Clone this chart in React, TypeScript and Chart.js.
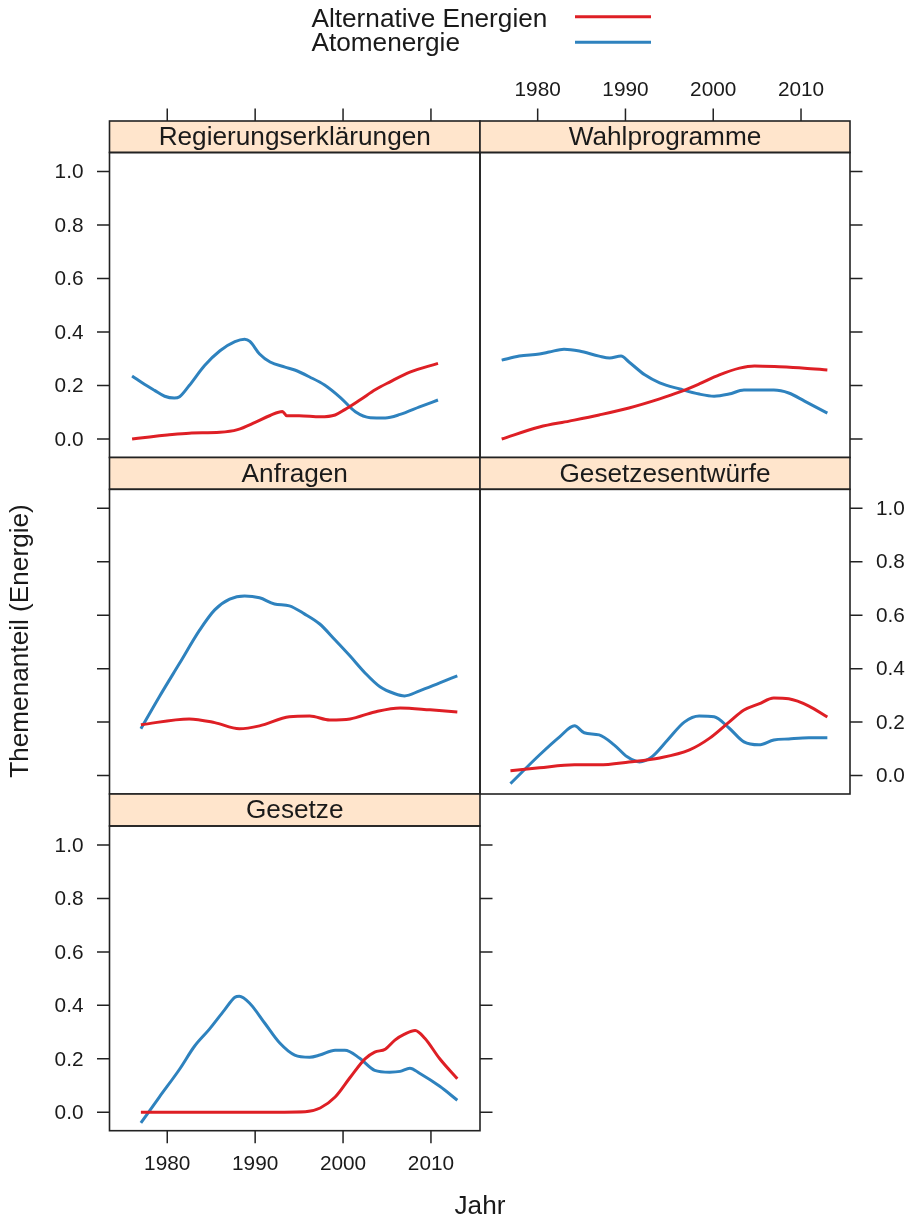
import React, { useEffect, useRef } from "react";
import { Chart, registerables } from "chart.js";
Chart.register(...registerables);

// ---------- data ----------
const seriesNames = ["Alternative Energien", "Atomenergie"];
const xTicks = [1980, 1990, 2000, 2010];
const xTickLabels = ["1980", "1990", "2000", "2010"];
const yTicks = [0, 0.2, 0.4, 0.6, 0.8, 1.0];
const yTickLabels = ["0.0", "0.2", "0.4", "0.6", "0.8", "1.0"];
const panelTitles = ["Regierungserklärungen", "Wahlprogramme", "Anfragen", "Gesetzesentwürfe", "Gesetze"];
const xAxisTitle = "Jahr";
const yAxisTitle = "Themenanteil (Energie)";

// Regierungserklärungen
const regAltYear = [1976, 1978, 1980, 1982.5, 1986, 1988, 1990, 1991.7, 1993.1, 1993.6, 1995, 1997.4, 1999.1, 2000.2, 2002, 2003.7, 2005.3, 2007.6, 2010.8];
const regAltVal = [0.0, 0.008, 0.015, 0.022, 0.025, 0.035, 0.062, 0.088, 0.103, 0.087, 0.087, 0.083, 0.09, 0.11, 0.148, 0.185, 0.213, 0.25, 0.283];
const regAtomYear = [1976, 1977.4, 1978.55, 1979.7, 1980.8, 1981.4, 1982.5, 1984.25, 1986, 1987.7, 1988.8, 1989.4, 1990.5, 1991.7, 1993.4, 1994.5, 1996.2, 1997.9, 1999.7, 2001.4, 2003.1, 2004.8, 2006.5, 2008.7, 2010.8];
const regAtomVal = [0.236, 0.205, 0.182, 0.16, 0.153, 0.158, 0.2, 0.275, 0.33, 0.364, 0.373, 0.365, 0.318, 0.288, 0.269, 0.258, 0.232, 0.202, 0.155, 0.102, 0.08, 0.079, 0.092, 0.12, 0.146];

// Wahlprogramme
const wahlAltYear = [1975.9, 1980.2, 1983.6, 1987, 1990.4, 1993.9, 1996.2, 1998.4, 2000.7, 2003, 2004.7, 2007.5, 2010.4, 2013];
const wahlAltVal = [0.0, 0.045, 0.067, 0.09, 0.116, 0.15, 0.176, 0.206, 0.24, 0.265, 0.273, 0.27, 0.265, 0.258];
const wahlAtomYear = [1975.9, 1977.9, 1980.2, 1981.3, 1983, 1984.75, 1987, 1988.2, 1989.5, 1990.4, 1992.2, 1993.9, 1996.2, 1998.4, 2000.1, 2001.8, 2003.5, 2005.2, 2006.9, 2008.6, 2010.4, 2013];
const wahlAtomVal = [0.295, 0.31, 0.318, 0.325, 0.336, 0.329, 0.31, 0.303, 0.31, 0.288, 0.24, 0.21, 0.187, 0.168, 0.16, 0.168, 0.183, 0.183, 0.183, 0.172, 0.142, 0.097];

// Anfragen
const anfAltYear = [1977, 1982.5, 1985.4, 1988.2, 1990.5, 1993.9, 1996.2, 1998.5, 2000.8, 2003.6, 2006.5, 2009.9, 2013];
const anfAltVal = [0.19, 0.212, 0.198, 0.175, 0.186, 0.22, 0.223, 0.208, 0.212, 0.238, 0.253, 0.246, 0.238];
const anfAtomYear = [1977, 1979.1, 1981.4, 1983.7, 1985.4, 1987.1, 1988.8, 1990.5, 1992.2, 1993.9, 1995.6, 1997.35, 1999.1, 2000.8, 2002.5, 2004.2, 2005.9, 2007, 2008.7, 2011, 2013];
const anfAtomVal = [0.175, 0.295, 0.42, 0.545, 0.62, 0.66, 0.672, 0.665, 0.642, 0.635, 0.605, 0.567, 0.507, 0.447, 0.384, 0.332, 0.306, 0.298, 0.317, 0.347, 0.373];

// Gesetzesentwürfe
const entAltYear = [1976.9, 1980.2, 1984.2, 1987, 1990.4, 1993.9, 1997.3, 1999.6, 2001.8, 2003.5, 2005.2, 2006.9, 2008.6, 2010.9, 2013];
const entAltVal = [0.018, 0.029, 0.04, 0.04, 0.051, 0.066, 0.096, 0.14, 0.2, 0.245, 0.268, 0.29, 0.287, 0.26, 0.219];
const entAtomYear = [1976.9, 1980.2, 1982.5, 1984.2, 1985.3, 1987, 1988.7, 1990.2, 1991.6, 1993, 1994.8, 1996.7, 1998.4, 2000.1, 2001.8, 2003.5, 2005.2, 2006.9, 2008.6, 2010.9, 2013];
const entAtomVal = [-0.03, 0.077, 0.145, 0.186, 0.16, 0.152, 0.115, 0.07, 0.051, 0.07, 0.133, 0.2, 0.223, 0.22, 0.178, 0.126, 0.115, 0.133, 0.137, 0.141, 0.141];

// Gesetze
const gesAltYear = [1977, 1985, 1990, 1995.7, 1997.4, 1999.1, 2000.8, 2002.5, 2003.6, 2004.8, 2005.9, 2007, 2008.2, 2009.3, 2011, 2013];
const gesAltVal = [0, 0, 0, 0.002, 0.016, 0.057, 0.13, 0.2, 0.225, 0.236, 0.27, 0.292, 0.306, 0.277, 0.2, 0.125];
const gesAtomYear = [1977, 1979.1, 1981.4, 1983.1, 1984.8, 1986.5, 1987.7, 1988.2, 1989.4, 1991.1, 1992.8, 1994.5, 1996.2, 1997.35, 1999.1, 2000.2, 2001.9, 2003.6, 2005.3, 2006.5, 2007.6, 2008.7, 2011, 2013];
const gesAtomVal = [-0.04, 0.057, 0.161, 0.247, 0.311, 0.382, 0.43, 0.434, 0.407, 0.333, 0.259, 0.214, 0.206, 0.214, 0.232, 0.232, 0.202, 0.157, 0.15, 0.153, 0.165, 0.146, 0.097, 0.045];

// ---------- layout / style ----------
const W = 914;
const H = 1222;
const X_MIN = 1973.43;
const X_MAX = 2015.58;
const Y_MIN = -0.069;
const Y_MAX = 1.071;
const COLORS = ["#DE1F25", "#2E82BE"];
const FONT = '"Liberation Sans", Arial, Helvetica, sans-serif';
const BIG = 26.2;
const SMALL = 20.8;
const INK = "#1a1a1a";
const FRAME = "#222222";
const STRIP_BG = "#FFE5CC";
const TICK = 12.5;
const COLS = [[109.5, 480], [480, 850]];
const ROWS = [
  { strip: 121, top: 152.5, bottom: 457.5 },
  { strip: 457.5, top: 489.3, bottom: 794 },
  { strip: 794, top: 826, bottom: 1130.7 },
];

type Side = "labels" | "ticks" | null;
type PanelCfg = {
  title: string;
  col: number;
  row: number;
  alt: [number[], number[]];
  atom: [number[], number[]];
  left: Side;
  right: Side;
  top: Side;
  bottom: Side;
  overlay?: boolean;
};

const PANELS: PanelCfg[] = [
  { title: panelTitles[0], col: 0, row: 0, alt: [regAltYear, regAltVal], atom: [regAtomYear, regAtomVal], left: "labels", right: null, top: "ticks", bottom: null, overlay: true },
  { title: panelTitles[1], col: 1, row: 0, alt: [wahlAltYear, wahlAltVal], atom: [wahlAtomYear, wahlAtomVal], left: null, right: "ticks", top: "labels", bottom: null },
  { title: panelTitles[2], col: 0, row: 1, alt: [anfAltYear, anfAltVal], atom: [anfAtomYear, anfAtomVal], left: "ticks", right: null, top: null, bottom: null },
  { title: panelTitles[3], col: 1, row: 1, alt: [entAltYear, entAltVal], atom: [entAtomYear, entAtomVal], left: null, right: "labels", top: null, bottom: null },
  { title: panelTitles[4], col: 0, row: 2, alt: [gesAltYear, gesAltVal], atom: [gesAtomYear, gesAtomVal], left: "labels", right: "ticks", top: null, bottom: "labels" },
];

const zip = (xs: number[], ys: number[]) => xs.map((x, i) => ({ x, y: ys[i] }));

function makeDecor(cfg: PanelCfg) {
  const stripTop = ROWS[cfg.row].strip;
  return {
    id: "panelDecor",
    afterDatasetsDraw(chart: any) {
      const ctx: CanvasRenderingContext2D = chart.ctx;
      const { left, right, top, bottom } = chart.chartArea;
      const xs = chart.scales.x;
      const ys = chart.scales.y;
      ctx.save();
      // strip
      ctx.fillStyle = STRIP_BG;
      ctx.fillRect(left, stripTop, right - left, top - stripTop);
      ctx.strokeStyle = FRAME;
      ctx.lineWidth = 1.6;
      ctx.strokeRect(left, stripTop, right - left, top - stripTop);
      ctx.strokeRect(left, top, right - left, bottom - top);
      ctx.fillStyle = INK;
      ctx.font = `${BIG}px ${FONT}`;
      ctx.textAlign = "center";
      ctx.textBaseline = "middle";
      ctx.fillText(cfg.title, (left + right) / 2, (stripTop + top) / 2 + 1);

      // ticks
      ctx.lineWidth = 1.5;
      ctx.font = `${SMALL}px ${FONT}`;
      ctx.beginPath();
      if (cfg.left) {
        yTicks.forEach((v) => {
          const y = ys.getPixelForValue(v);
          ctx.moveTo(left - TICK, y);
          ctx.lineTo(left, y);
        });
      }
      if (cfg.right) {
        yTicks.forEach((v) => {
          const y = ys.getPixelForValue(v);
          ctx.moveTo(right, y);
          ctx.lineTo(right + TICK, y);
        });
      }
      if (cfg.top) {
        xTicks.forEach((v) => {
          const x = xs.getPixelForValue(v);
          ctx.moveTo(x, stripTop - TICK);
          ctx.lineTo(x, stripTop);
        });
      }
      if (cfg.bottom) {
        xTicks.forEach((v) => {
          const x = xs.getPixelForValue(v);
          ctx.moveTo(x, bottom);
          ctx.lineTo(x, bottom + TICK);
        });
      }
      ctx.stroke();

      ctx.textBaseline = "middle";
      if (cfg.left === "labels") {
        ctx.textAlign = "right";
        yTicks.forEach((v, i) => ctx.fillText(yTickLabels[i], left - 26, ys.getPixelForValue(v) + 1));
      }
      if (cfg.right === "labels") {
        ctx.textAlign = "left";
        yTicks.forEach((v, i) => ctx.fillText(yTickLabels[i], right + 26, ys.getPixelForValue(v) + 1));
      }
      if (cfg.top === "labels") {
        ctx.textAlign = "center";
        xTicks.forEach((v, i) => ctx.fillText(xTickLabels[i], xs.getPixelForValue(v), 90));
      }
      if (cfg.bottom === "labels") {
        ctx.textAlign = "center";
        xTicks.forEach((v, i) => ctx.fillText(xTickLabels[i], xs.getPixelForValue(v), bottom + 34));
      }

      if (cfg.overlay) {
        // legend
        ctx.font = `${BIG}px ${FONT}`;
        ctx.textAlign = "left";
        ctx.textBaseline = "alphabetic";
        const rows = [
          { ty: 27, ly: 16.7 },
          { ty: 51, ly: 42.3 },
        ];
        chart.data.datasets.forEach((ds: any, i: number) => {
          ctx.fillStyle = INK;
          ctx.fillText(ds.label, 311.5, rows[i].ty);
          ctx.strokeStyle = ds.borderColor;
          ctx.lineWidth = 3;
          ctx.beginPath();
          ctx.moveTo(575, rows[i].ly);
          ctx.lineTo(651, rows[i].ly);
          ctx.stroke();
        });
        // axis titles
        ctx.fillStyle = INK;
        ctx.textAlign = "center";
        ctx.textBaseline = "middle";
        ctx.fillText(xAxisTitle, 480, 1207);
        ctx.save();
        ctx.translate(21, 641);
        ctx.rotate(-Math.PI / 2);
        ctx.fillText(yAxisTitle, 0, 0);
        ctx.restore();
      }
      ctx.restore();
    },
  };
}

function Panel({ cfg }: { cfg: PanelCfg }) {
  const ref = useRef<HTMLCanvasElement | null>(null);
  useEffect(() => {
    if (!ref.current) return;
    const [cl, cr] = COLS[cfg.col];
    const r = ROWS[cfg.row];
    const chart = new Chart(ref.current, {
      type: "line",
      data: {
        datasets: [
          {
            label: seriesNames[0],
            data: zip(cfg.alt[0], cfg.alt[1]),
            borderColor: COLORS[0],
            borderWidth: 3,
            pointRadius: 0,
            cubicInterpolationMode: "monotone",
            fill: false,
          },
          {
            label: seriesNames[1],
            data: zip(cfg.atom[0], cfg.atom[1]),
            borderColor: COLORS[1],
            borderWidth: 3,
            pointRadius: 0,
            cubicInterpolationMode: "monotone",
            fill: false,
          },
        ],
      },
      options: {
        animation: false,
        responsive: false,
        events: [],
        layout: { padding: { left: cl, right: W - cr, top: r.top, bottom: H - r.bottom } },
        plugins: { legend: { display: false }, tooltip: { enabled: false }, title: { display: false } },
        scales: {
          x: { type: "linear", min: X_MIN, max: X_MAX, display: false },
          y: { type: "linear", min: Y_MIN, max: Y_MAX, display: false },
        },
      },
      plugins: [makeDecor(cfg)],
    } as any);
    return () => chart.destroy();
  }, [cfg]);
  return (
    <canvas
      ref={ref}
      width={W}
      height={H}
      style={{ position: "absolute", left: 0, top: 0, width: W, height: H, pointerEvents: "none" }}
    />
  );
}

export default function App() {
  return (
    <div style={{ position: "absolute", left: 0, top: 0, width: W, height: H, background: "#fff" }}>
      {PANELS.map((p, i) => (
        <Panel key={i} cfg={p} />
      ))}
    </div>
  );
}
